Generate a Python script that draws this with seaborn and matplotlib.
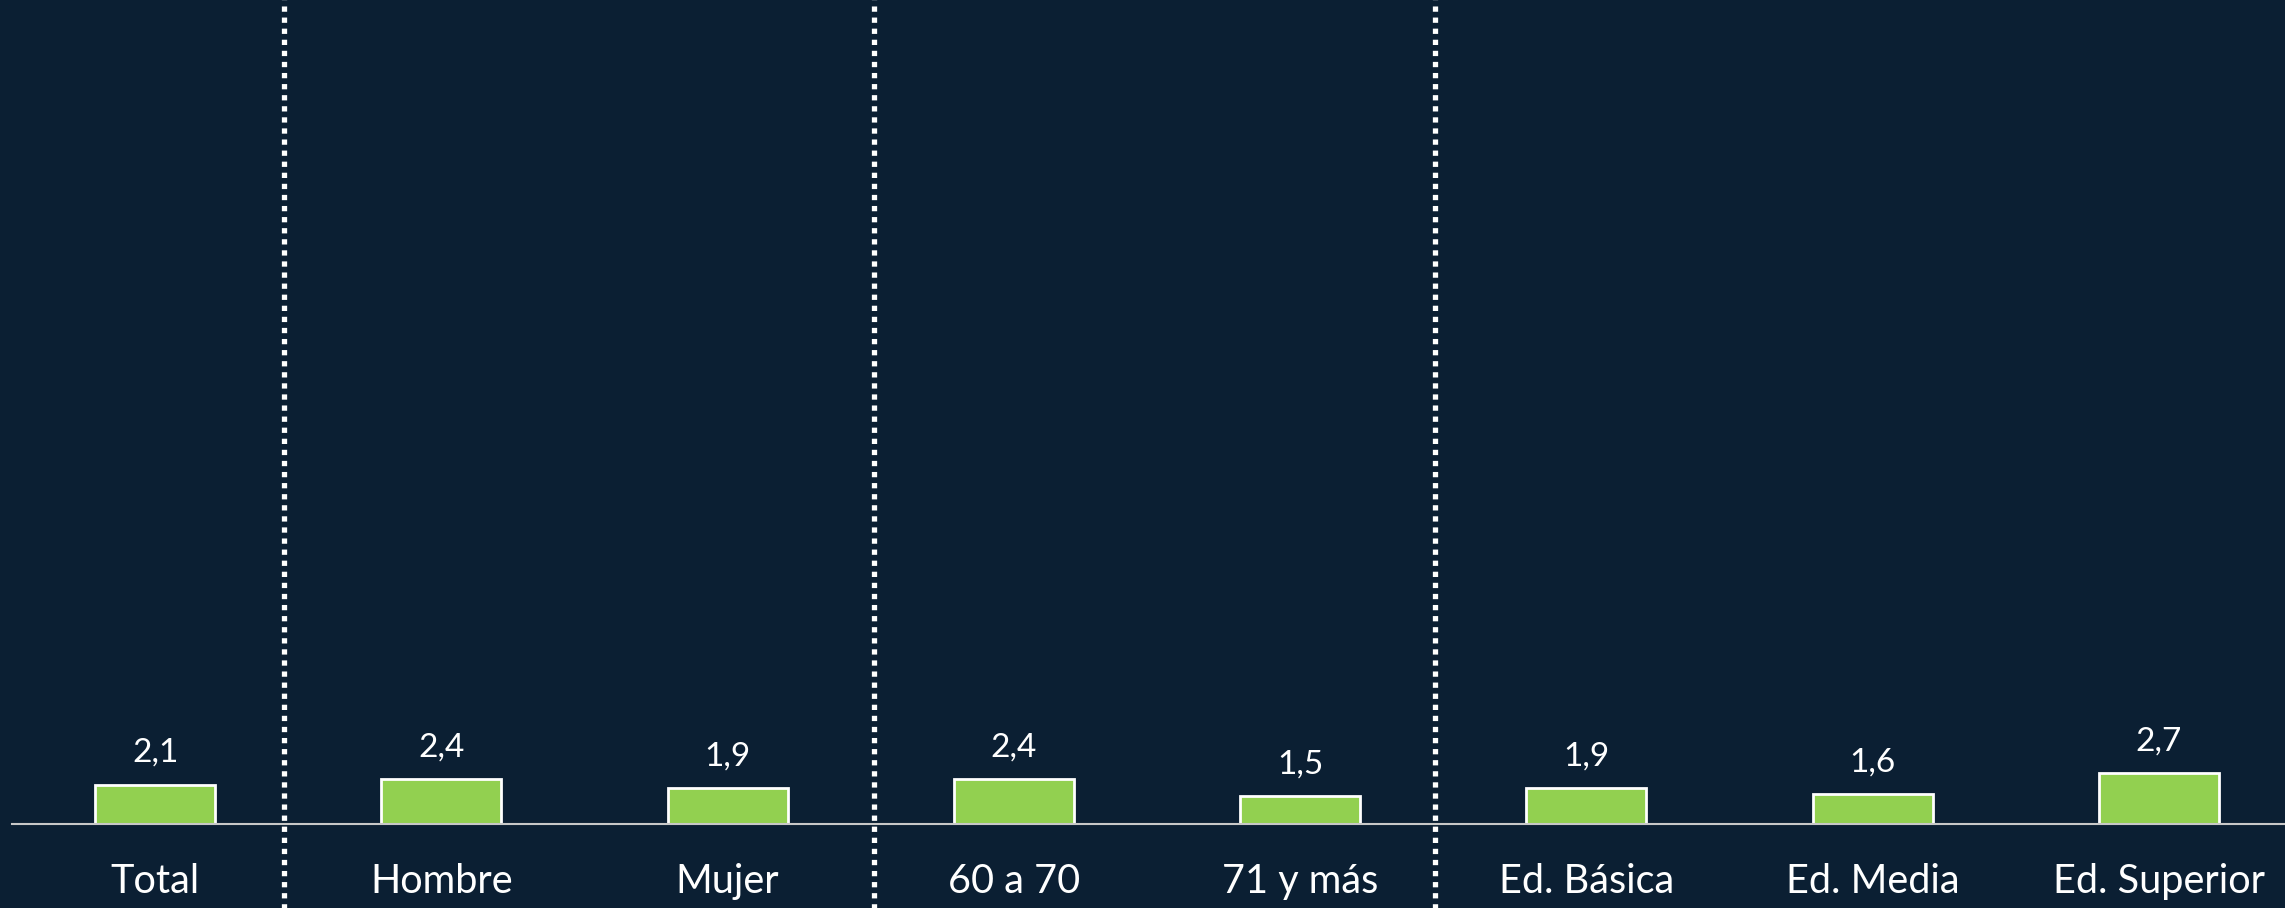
"""
Promedio por grupo: barras verdes sobre fondo azul oscuro,
con separadores punteados entre grupos.
"""

import matplotlib.pyplot as plt
import pandas as pd
import seaborn as sns

categories = ['Total', 'Hombre', 'Mujer', '60 a 70', '71 y más',
              'Ed. Básica', 'Ed. Media', 'Ed. Superior']
values = [2.1, 2.4, 1.9, 2.4, 1.5, 1.9, 1.6, 2.7]

BG = '#0b1f33'
GREEN = '#92d050'


def main():
    sns.set_theme(style='white')
    plt.rcParams['font.family'] = ['Lato', 'DejaVu Sans']

    df = pd.DataFrame({'grupo': categories, 'valor': values})

    fig = plt.figure(figsize=(22.85, 9.08), dpi=100, facecolor=BG)
    ax = fig.add_axes([12 / 2285, 84 / 908, 2290 / 2285, 824 / 908])
    ax.set_facecolor(BG)

    sns.barplot(data=df, x='grupo', y='valor', color=GREEN,
                edgecolor='white', linewidth=2, width=0.42,
                saturation=1, ax=ax)

    labels = [f'{v:.1f}'.replace('.', ',') for v in values]
    ax.bar_label(ax.containers[0], labels=labels, padding=12,
                 color='white', fontsize=24)

    # separadores entre grupos
    for xs in [0.45, 2.51, 4.47]:
        ax.axvline(xs, color='white', lw=3.8, ls=(0, (1, 1.1)),
                   dash_capstyle='butt', clip_on=False, ymin=-0.2)

    ax.set_xlim(-0.5, 7.5)
    ax.set_ylim(0, 824 / 18.8)
    for s in ['top', 'right', 'left']:
        ax.spines[s].set_visible(False)
    ax.spines['bottom'].set_color('#c8c8c8')
    ax.spines['bottom'].set_linewidth(1.5)

    ax.set_yticks([])
    ax.set_xlabel('')
    ax.set_ylabel('')
    ax.tick_params(axis='x', length=0, pad=28, labelsize=28.5,
                   labelcolor='white')

    plt.savefig('out.png', dpi=100, facecolor=BG)


if __name__ == '__main__':
    main()
